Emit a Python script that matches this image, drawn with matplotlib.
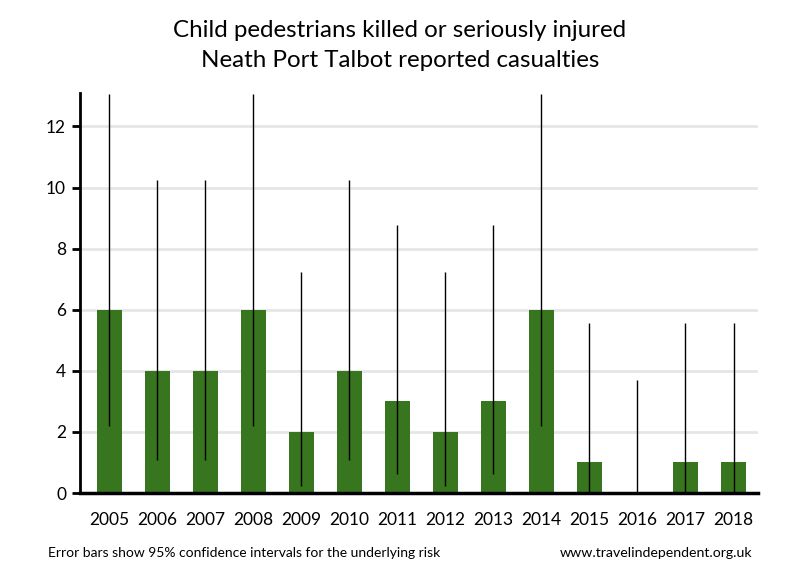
import matplotlib.pyplot as plt
import numpy as np

plt.rcParams['font.family'] = ['Lato', 'DejaVu Sans']

# data
years = ['2005', '2006', '2007', '2008', '2009', '2010', '2011',
         '2012', '2013', '2014', '2015', '2016', '2017', '2018']
casualties = [6, 4, 4, 6, 2, 4, 3, 2, 3, 6, 1, 0, 1, 1]
ci_low = [2.20, 1.09, 1.09, 2.20, 0.24, 1.09, 0.62,
          0.24, 0.62, 2.20, 0.03, 0.0, 0.03, 0.03]
ci_high = [13.06, 10.24, 10.24, 13.06, 7.22, 10.24, 8.77,
           7.22, 8.77, 13.06, 5.57, 3.69, 5.57, 5.57]

bar_color = '#37761f'

fig = plt.figure(figsize=(8, 5.8), dpi=100)
ax = fig.add_axes([0.1, 0.15, 0.8475, 0.69])

x = np.arange(len(years))
ax.bar(x, casualties, width=0.52, color=bar_color, zorder=2)
ax.vlines(x, ci_low, ci_high, color='black', linewidth=1, zorder=3)

ax.set_xlim(-0.61, 13.51)
ax.set_ylim(0, 13.1)
ax.set_yticks(range(0, 13, 2))
ax.set_xticks(x)
ax.set_xticklabels(years)

ax.grid(axis='y', color='#e6e6e6', linewidth=2, zorder=0)
ax.set_axisbelow(True)

for side in ['top', 'right']:
    ax.spines[side].set_visible(False)
ax.spines['left'].set_linewidth(2)
ax.spines['bottom'].set_linewidth(2.5)

ax.tick_params(axis='y', length=6, width=2, labelsize=12.5, pad=4)
ax.tick_params(axis='x', length=0, labelsize=12.5, pad=14)

fig.text(0.5, 0.947, 'Child pedestrians killed or seriously injured',
         ha='center', va='center', fontsize=17.4)
fig.text(0.5, 0.895, 'Neath Port Talbot reported casualties',
         ha='center', va='center', fontsize=17.4)

fig.text(0.06, 0.046, 'Error bars show 95% confidence intervals for the underlying risk',
         ha='left', va='center', fontsize=10)
fig.text(0.94, 0.046, 'www.travelindependent.org.uk',
         ha='right', va='center', fontsize=10.2)

fig.savefig('out.png', dpi=100)
